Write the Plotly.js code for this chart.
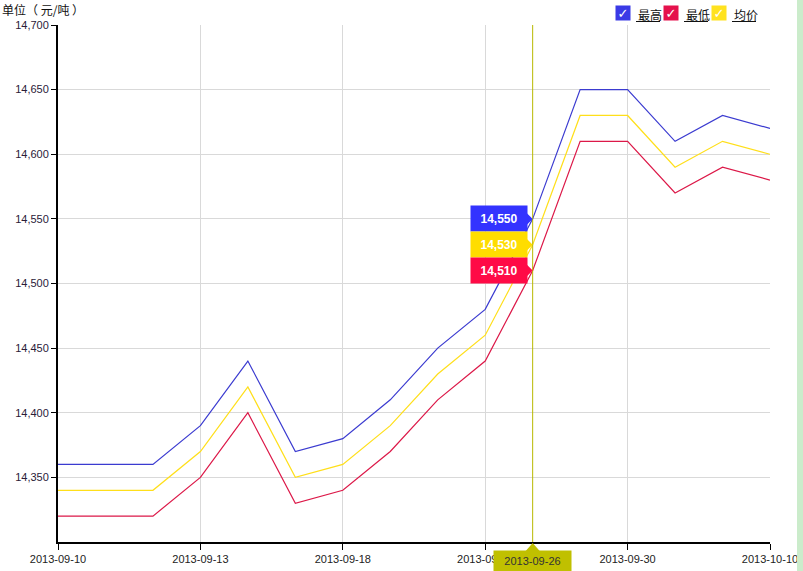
<!DOCTYPE html>
<html><head><meta charset="utf-8">
<script src="https://cdn.plot.ly/plotly-3.0.1.min.js"></script>
<style>html,body{margin:0;padding:0;background:#fff}#chart{width:803px;height:571px}</style>
</head><body><div id="chart"></div>
<script>
const dates = ['2013-09-10','2013-09-11','2013-09-12','2013-09-13','2013-09-16','2013-09-17','2013-09-18','2013-09-23','2013-09-24','2013-09-25','2013-09-26','2013-09-27','2013-09-30','2013-10-08','2013-10-09','2013-10-10'];
const highVals = [14360,14360,14360,14390,14440,14370,14380,14410,14450,14480,14550,14650,14650,14610,14630,14620];
const lowVals  = [14320,14320,14320,14350,14400,14330,14340,14370,14410,14440,14510,14610,14610,14570,14590,14580];
const avgVals  = [14340,14340,14340,14370,14420,14350,14360,14390,14430,14460,14530,14630,14630,14590,14610,14600];
const seriesNames = ['最高','最低','均价'];
const xTickLabels = ['2013-09-10','2013-09-13','2013-09-18','2013-09-25','2013-09-30','2013-10-10'];
const yTickVals = [14350,14400,14450,14500,14550,14600,14650,14700];
const focusDate = '2013-09-26';
const yTitle = '单位（ 元/吨 ）';

const cBlue = '#3b3bd0', cRed = '#dc1848', cYellow = '#ffdf1a';
const fi = dates.indexOf(focusDate);

const mk = (y, name, color) => ({x: dates, y: y, name: name, type: 'scatter', mode: 'lines',
  line: {color: color, width: 1.2}, hoverinfo: 'skip', showlegend: false});
const data = [mk(highVals, seriesNames[0], cBlue), mk(avgVals, seriesNames[2], cYellow), mk(lowVals, seriesNames[1], cRed)];

const L = 58, R = 770, T = 25, B = 542;
const px = v => (v - L) / (R - L);
const py = v => (B - v) / (B - T);
const font = 'Liberation Sans, Arial, sans-serif';
const cjk = 'Noto Sans CJK SC, sans-serif';

const annotations = [];
const shapes = [];

// crosshair
shapes.push({type: 'line', xref: 'x', yref: 'paper', x0: fi, x1: fi, y0: 0, y1: 1, line: {color: '#b8b800', width: 1}, layer: 'above'});

// value tags
[[highVals, '#3333ff', '#fff'], [avgVals, '#ffdd00', '#fff'], [lowVals, '#ff0a46', '#fff']].forEach(([arr, bg, fc]) => {
  annotations.push({xref: 'x', yref: 'y', x: fi, y: arr[fi], xanchor: 'right', yanchor: 'middle', xshift: -5,
    text: '<b>' + arr[fi].toLocaleString('en-US') + '</b>', showarrow: false, bgcolor: bg,
    width: 50, height: 19, borderpad: 3, font: {family: font, size: 12, color: fc}, align: 'center'});
  shapes.push({type: 'path', xref: 'x', yref: 'y', xsizemode: 'pixel', ysizemode: 'pixel', xanchor: fi, yanchor: arr[fi],
    path: 'M -6 -6 L 0 0 L -6 6 Z', fillcolor: bg, line: {width: 0}, layer: 'above'});
});

// x focus label
annotations.push({xref: 'x', yref: 'paper', x: fi, y: 0, yanchor: 'top', yshift: -8, text: focusDate, showarrow: false,
  bgcolor: '#c0c000', width: 73, height: 16, borderpad: 2, font: {family: font, size: 11, color: '#333'}});
shapes.push({type: 'path', xref: 'x', yref: 'paper', xsizemode: 'pixel', ysizemode: 'pixel', xanchor: fi, yanchor: 0,
  path: 'M -7 -9 L 0 -1 L 7 -9 Z', fillcolor: '#c0c000', line: {width: 0}, layer: 'above'});

// y title
annotations.push({xref: 'paper', yref: 'paper', x: px(0), y: py(10), xanchor: 'left', yanchor: 'middle', text: yTitle,
  showarrow: false, font: {family: cjk, size: 12, color: '#111'}});

// custom legend
const legendItems = [[seriesNames[0], '#3a3ae6', 615, 636], [seriesNames[1], '#e5114c', 663, 684], [seriesNames[2], '#ffe21f', 711, 732]];
legendItems.forEach(([name, color, bx, tx]) => {
  annotations.push({xref: 'paper', yref: 'paper', x: px(bx), y: py(13), xanchor: 'left', yanchor: 'middle', text: '<b>✓</b>',
    showarrow: false, bgcolor: color, width: 14, height: 14, borderpad: 0, font: {family: 'DejaVu Sans', size: 13, color: '#fff'}});
  annotations.push({xref: 'paper', yref: 'paper', x: px(tx), y: py(14), xanchor: 'left', yanchor: 'middle', text: name,
    showarrow: false, font: {family: cjk, size: 12, color: '#111'}});
  shapes.push({type: 'line', xref: 'paper', yref: 'paper', x0: px(tx), x1: px(tx + 24), y0: py(21.5), y1: py(21.5), line: {color: '#111', width: 1}});
});

// right green strip
shapes.push({type: 'rect', xref: 'paper', yref: 'paper', x0: px(797), x1: px(804), y0: py(572), y1: py(-1), fillcolor: '#cbeccb', line: {width: 0}});

const layout = {
  width: 803, height: 571,
  margin: {l: L, r: 803 - R, t: T, b: 571 - B, pad: 0},
  paper_bgcolor: '#fff', plot_bgcolor: '#fff',
  showlegend: false, hovermode: false,
  xaxis: {type: 'category', range: [0, dates.length - 1], tickmode: 'array', tickvals: xTickLabels, ticktext: xTickLabels,
    showgrid: true, gridcolor: '#d9d9d9', gridwidth: 1, showline: true, linecolor: '#000', linewidth: 2,
    ticks: 'outside', ticklen: 6, tickcolor: '#000', tickwidth: 1, tickangle: 0, automargin: false,
    tickfont: {family: font, size: 11, color: '#222'}, zeroline: false},
  yaxis: {range: [14300, 14700], tickmode: 'array', tickvals: yTickVals, ticktext: yTickVals.map(v => v.toLocaleString('en-US')),
    showgrid: true, gridcolor: '#d9d9d9', gridwidth: 1, showline: true, linecolor: '#000', linewidth: 2,
    ticks: 'outside', ticklen: 5, tickcolor: '#000', tickwidth: 1, automargin: false,
    tickfont: {family: font, size: 11, color: '#2a2038'}, zeroline: false},
  annotations: annotations, shapes: shapes
};
Plotly.newPlot('chart', data, layout, {displayModeBar: false, staticPlot: true});
</script></body></html>
